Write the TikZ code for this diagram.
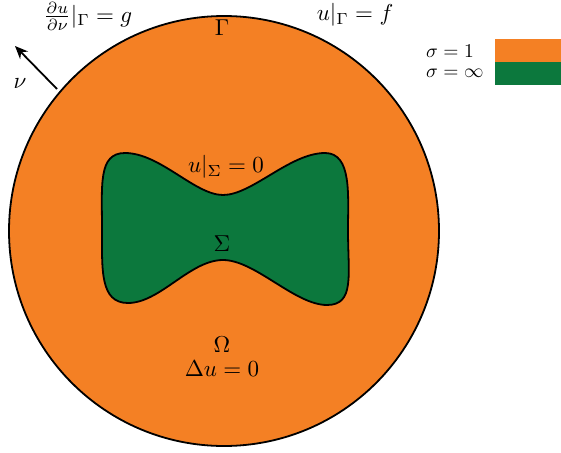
\documentclass[tikz,border=0pt]{standalone}
\usetikzlibrary{arrows.meta}
\definecolor{regorange}{RGB}{244,128,36}
\definecolor{reggreen}{RGB}{12,120,61}
\newcommand{\mylblmath}[1]{\scalebox{2.3}{$#1$}}
\newcommand{\mylegmath}[1]{\scalebox{1.95}{$#1$}}
\begin{document}
\begin{tikzpicture}[x=1pt,y=-1pt,
  lbl/.style={inner sep=0pt},
  leg/.style={inner sep=0pt,anchor=west},
  border/.style={line width=1.8pt}]
\useasboundingbox (0,0) rectangle (561,452);
\fill[white] (0,0) rectangle (561,452);
\node[circle,draw,border,fill=regorange,minimum size=430pt,inner sep=0pt] (omega) at (224,231) {};
\draw[border,fill=reggreen]
  (223,195) .. controls (252,195) and (290,153) .. (325,153)
  .. controls (352,153) and (348,195) .. (348,230)
  .. controls (348,275) and (355,305) .. (327,305)
  .. controls (295,305) and (255,260) .. (223,260)
  .. controls (190,260) and (160,303) .. (128,303)
  .. controls (100,303) and (102,270) .. (102,230)
  .. controls (102,185) and (98,153) .. (125,153)
  .. controls (160,153) and (195,195) .. (223,195) -- cycle;
\coordinate (nstart) at (57,89);
\coordinate (ntip) at (15,46);
\draw[line width=1.8pt,-{Stealth[length=13pt,width=11pt]}] (nstart) -- (ntip);
\node[lbl] (nu) at (20,84) {\mylblmath{\nu}};
\node[lbl] (neum) at (88,16) {\mylblmath{\frac{\partial u}{\partial\nu}|_\Gamma=g}};
\node[lbl] (dir) at (355,15) {\mylblmath{u|_\Gamma=f}};
\node[lbl] (gamma) at (222,28) {\mylblmath{\Gamma}};
\node[lbl] (sigcond) at (226,167) {\mylblmath{u|_\Sigma=0}};
\node[lbl] (sigma) at (222,244) {\mylblmath{\Sigma}};
\node[lbl] (om) at (222,345) {\mylblmath{\Omega}};
\node[lbl] (lap) at (222,369) {\mylblmath{\Delta u=0}};
\node[leg] (l1) at (426,51) {\mylegmath{\sigma=1}};
\node[leg] (l2) at (426,73) {\mylegmath{\sigma=\infty}};
\node[fill=regorange,minimum width=66pt,minimum height=23pt,inner sep=0pt,anchor=north west] (b1) at (495,39) {};
\node[fill=reggreen,minimum width=66pt,minimum height=23pt,inner sep=0pt,anchor=north west] (b2) at (495,62) {};
\end{tikzpicture}
\end{document}
